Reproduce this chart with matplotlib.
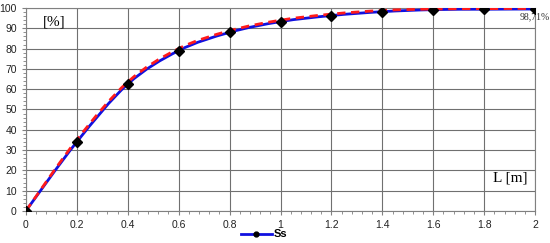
import matplotlib
matplotlib.use("Agg")
import matplotlib.pyplot as plt
from matplotlib.ticker import MultipleLocator
from matplotlib.lines import Line2D
from matplotlib.path import Path
from matplotlib.patches import PathPatch

L = [0, 0.2, 0.4, 0.6, 0.8, 1.0, 1.2, 1.4, 1.6, 1.8, 2.0]
Ss = [0, 34, 62.5, 79, 88, 93.3, 96.3, 98.2, 99.2, 99.4, 99.5]
fit = [0, 35, 63.5, 80, 88.8, 94.0, 97.0, 98.8, 99.5, 99.7, 99.8]
final_label = "98,71%"


def smooth_path(xs, ys):
    # Excel-like smoothed line drawn as cubic Bezier segments through the points
    verts = [(xs[0], ys[0])]
    codes = [Path.MOVETO]
    n = len(xs)
    for i in range(n - 1):
        x0, y0 = (xs[i - 1], ys[i - 1]) if i > 0 else (xs[i], ys[i])
        x1, y1 = xs[i], ys[i]
        x2, y2 = xs[i + 1], ys[i + 1]
        x3, y3 = (xs[i + 2], ys[i + 2]) if i + 2 < n else (xs[i + 1], ys[i + 1])
        c1 = (x1 + (x2 - x0) / 6, y1 + (y2 - y0) / 6)
        c2 = (x2 - (x3 - x1) / 6, y2 - (y3 - y1) / 6)
        verts += [c1, c2, (x2, y2)]
        codes += [Path.CURVE4] * 3
    return Path(verts, codes)


fig = plt.figure(figsize=(5.5, 2.43), dpi=100)
ax = fig.add_axes([0.047, 0.132, 0.926, 0.835])

ax.add_patch(PathPatch(smooth_path(L, Ss), fill=False, edgecolor="#1010e0", lw=2.0, zorder=3))
ax.add_patch(PathPatch(smooth_path(L, fit), fill=False, edgecolor="#ff1a1a", lw=2.0,
                       ls=(0, (3, 2)), zorder=4))
ax.plot(L, Ss, ls="none", marker="D", ms=5, color="black", zorder=5)

ax.set_xlim(0, 2)
ax.set_ylim(0, 100)
ax.xaxis.set_major_locator(MultipleLocator(0.2))
ax.xaxis.set_minor_locator(MultipleLocator(0.04))
ax.yaxis.set_major_locator(MultipleLocator(10))
ax.yaxis.set_minor_locator(MultipleLocator(2))
ax.grid(True, which="major", color="#707070", lw=0.8)
ax.set_axisbelow(True)
for s in ax.spines.values():
    s.set_color("#808080")
    s.set_linewidth(0.8)
ax.tick_params(axis="both", which="major", labelsize=7.5, colors="#808080",
               labelcolor="#222222", length=3, width=0.8)
ax.tick_params(axis="both", which="minor", length=2, colors="#808080", width=0.6)
ax.set_xticks(L)
ax.set_xticklabels(["0", "0.2", "0.4", "0.6", "0.8", "1", "1.2", "1.4", "1.6", "1.8", "2"])
for lab in ax.get_xticklabels() + ax.get_yticklabels():
    lab.set_family("Liberation Sans")

ax.text(0.065, 93, "[%]", family="Liberation Serif", fontsize=11, va="center", ha="left")
ax.text(1.97, 16, "L [m]", family="Liberation Serif", fontsize=11, va="center", ha="right")
ax.text(2.0, 95.5, final_label, family="Liberation Serif", fontsize=7, va="center", ha="center", color="#333333")

handle = Line2D([], [], color="#1010e0", lw=2.0, marker="o", ms=3.5,
                markerfacecolor="black", markeredgecolor="black")
leg = fig.legend([handle], ["Ss"], loc="center", bbox_to_anchor=(0.48, 0.035),
                 frameon=False, handlelength=2.8, handletextpad=0.2,
                 prop={"family": "Liberation Sans", "weight": "bold", "size": 8})

fig.savefig("out.png", dpi=100)
